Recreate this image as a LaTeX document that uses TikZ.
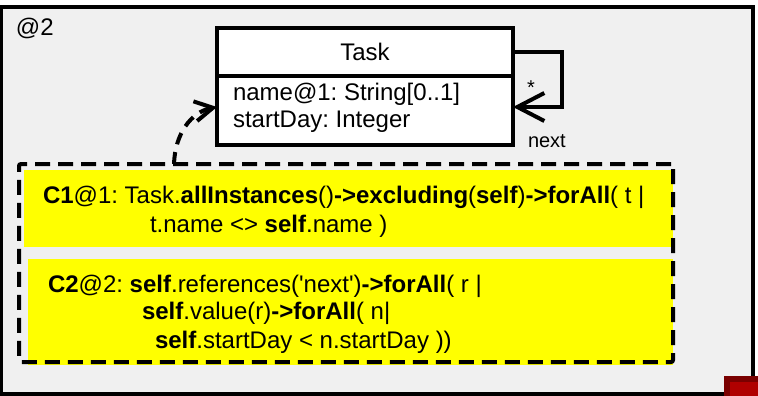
\documentclass[tikz,border=0pt]{standalone}
\usepackage{fontspec}
\setmainfont{Liberation Sans}
\usetikzlibrary{arrows.meta}
\frenchspacing
\definecolor{framegray}{HTML}{F0F0F0}
\definecolor{oclyellow}{HTML}{FFFF00}
\definecolor{cornerdark}{HTML}{7A0000}
\definecolor{cornerred}{HTML}{B00000}
\tikzset{
  every node/.style={outer sep=0pt, inner sep=0pt},
  frame/.style={draw=black, line width=4pt, fill=framegray, anchor=north west},
  cls/.style={draw=black, line width=3.5pt, fill=white, anchor=north west},
  ocl/.style={fill=oclyellow, anchor=north west},
  consbox/.style={draw=black, line width=4pt, dash pattern=on 15pt off 8pt, rounded corners=2pt, anchor=north west},
  txt/.style={anchor=base west, font=\fontsize{24pt}{28pt}\selectfont},
  smalltxt/.style={anchor=base west, font=\fontsize{20pt}{24pt}\selectfont},
  assoc/.style={line width=4pt, -{Straight Barb[length=27pt,width=28pt]}},
  dep/.style={line width=4pt, dash pattern=on 12pt off 8pt, -{Straight Barb[length=18pt,width=20pt]}}
}
\begin{document}
\frenchspacing
\begin{tikzpicture}[x=1pt,y=-1pt]
\useasboundingbox (0,0) rectangle (758,396);
% frame
\node[frame, minimum width=752.5pt, minimum height=386.5pt] (frame) at (0.5,7) {};
\node[txt] (framelabel) at (16,36) {@2};
% corner mark
\fill[cornerdark] (724,376) rectangle (758,396);
\fill[cornerred] (730,382) rectangle (758,396);
% class Task
\node[cls, minimum width=296pt, minimum height=48pt, font=\fontsize{24pt}{28pt}\selectfont] (taskhead) at (217,28) {Task};
\node[cls, minimum width=296pt, minimum height=69pt] (taskattr) at (217,76) {};
\node[txt] (attr1) at (233,100) {name@1: String[0..1]};
\node[txt] (attr2) at (233,128) {startDay: Integer};
% self association
\draw[assoc] (taskhead.east) -- ++(49,0) |- ([yshift=3.5pt]taskattr.east);
\node[smalltxt] (mult) at (527,95) {*};
\node[smalltxt] (rolename) at (528,147) {next};
% constraints
\node[ocl, minimum width=649pt, minimum height=77pt] (c1) at (24,170) {};
\node[ocl, minimum width=645pt, minimum height=106pt] (c2) at (28,259) {};
\node[txt] (c1a) at (43,203) {\textbf{C1}@1: Task.\textbf{allInstances}()\textbf{->excluding}(\textbf{self})\textbf{->forAll}( t |};
\node[txt] (c1b) at (150,232) {t.name <> \textbf{self}.name )};
\node[txt] (c2a) at (48,292) {\textbf{C2}@2: \textbf{self}.references(\textquotesingle next\textquotesingle)\textbf{->forAll}( r |};
\node[txt] (c2b) at (142,319) {\textbf{self}.value(r)\textbf{->forAll}( n|};
\node[txt] (c2c) at (155,348) {\textbf{self}.startDay < n.startDay ))};
\node[consbox, minimum width=654pt, minimum height=198pt] (cons) at (19,164) {};
% dependency
\draw[dep] ([xshift=155pt]cons.north west) .. controls +(1,-30) and +(-26,5) .. ([yshift=3.5pt]taskattr.west);
\end{tikzpicture}
\end{document}
